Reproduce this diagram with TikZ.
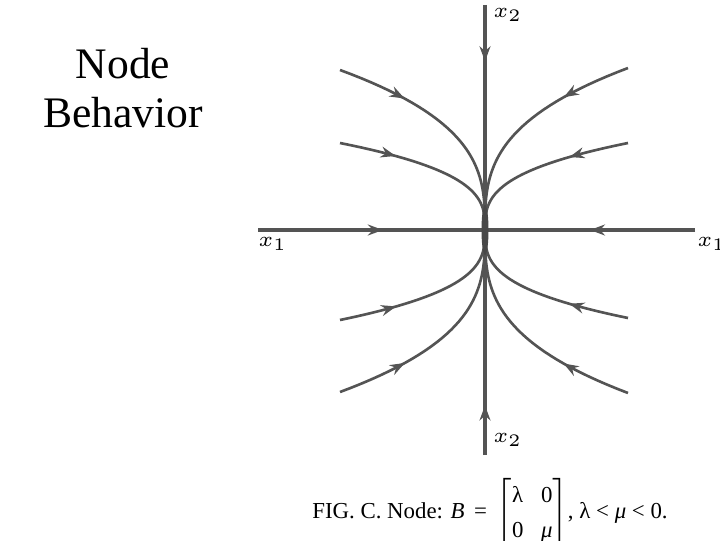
\documentclass[tikz,border=0pt]{standalone}
\usepackage{amsmath}
\usepackage{fontspec}
\setmainfont{Liberation Serif}
\usepackage{tikz}
\usetikzlibrary{arrows.meta,decorations.markings}

\definecolor{inkgray}{gray}{0.33}

\begin{document}
\begin{tikzpicture}[
  axis/.style={draw=inkgray,line width=0.9pt},
  traj/.style={draw=inkgray,line width=0.75pt},
  flow/.style={postaction={decorate},decoration={markings,
    mark=at position #1 with {\arrow{Stealth[length=1.5mm,width=1.1mm,inset=0.5mm]}}}},
  axlabel/.style={font=\fontsize{6}{7}\selectfont,inner sep=0pt},
  title/.style={font=\fontsize{12.4}{14}\selectfont,align=center},
  caption/.style={font=\fontsize{6.5}{7}\selectfont}]

  \useasboundingbox (-4.85,-3.10) rectangle (2.35,2.30);

  % Ends of the axes and the fixed point
  \coordinate (O) at (0,0);
  \coordinate (top) at (0,2.25);
  \coordinate (bottom) at (0,-2.25);
  \coordinate (left) at (-2.27,0);
  \coordinate (right) at (2.10,0);

  % Axes, flowing into the node
  \draw[axis,flow=0.25] (top) -- (O);
  \draw[axis,flow=0.22] (bottom) -- (O);
  \draw[axis,flow=0.55] (left) -- (O);
  \draw[axis,flow=0.5] (right) -- (O);

  % Trajectories x = a t^3, y = b t, tangent to the x2 axis at the node
  \draw[traj,flow=0.30] plot[domain=1:0,samples=40,variable=\t] ({-1.45*\t^3},{1.60*\t});
  \draw[traj,flow=0.30] plot[domain=1:0,samples=40,variable=\t] ({1.43*\t^3},{1.62*\t});
  \draw[traj,flow=0.31] plot[domain=1:0,samples=40,variable=\t] ({-1.45*\t^3},{0.87*\t});
  \draw[traj,flow=0.33] plot[domain=1:0,samples=40,variable=\t] ({1.43*\t^3},{0.87*\t});
  \draw[traj,flow=0.31] plot[domain=1:0,samples=40,variable=\t] ({-1.45*\t^3},{-0.90*\t});
  \draw[traj,flow=0.33] plot[domain=1:0,samples=40,variable=\t] ({1.43*\t^3},{-0.88*\t});
  \draw[traj,flow=0.30] plot[domain=1:0,samples=40,variable=\t] ({-1.45*\t^3},{-1.62*\t});
  \draw[traj,flow=0.30] plot[domain=1:0,samples=40,variable=\t] ({1.43*\t^3},{-1.63*\t});

  % The node itself
  \fill[inkgray!85!black] (O) ellipse (0.035 and 0.25);

  % Axis labels
  \node[axlabel,anchor=west] (x2top) at (0.08,2.15) {$x_2$};
  \node[axlabel,anchor=west] (x2bot) at (0.08,-2.10) {$x_2$};
  \node[axlabel,anchor=west] (x1left) at (-2.27,-0.14) {$x_1$};
  \node[axlabel,anchor=west] (x1right) at (2.12,-0.14) {$x_1$};

  % Title and caption
  \node[title] (heading) at (-3.62,1.42) {Node\\Behavior};
  \node[caption] (figcap) at (0.05,-2.83)
    {FIG. C. Node: \textit{B} \,=\, {\setlength\arraycolsep{2.5pt}\renewcommand\arraystretch{1.45}%
     $\begin{bmatrix}\text{λ} & \text{0}\\ \text{0} & \text{\itshape μ}\end{bmatrix}$},
     λ < \textit{μ} < 0.};
\end{tikzpicture}
\end{document}
